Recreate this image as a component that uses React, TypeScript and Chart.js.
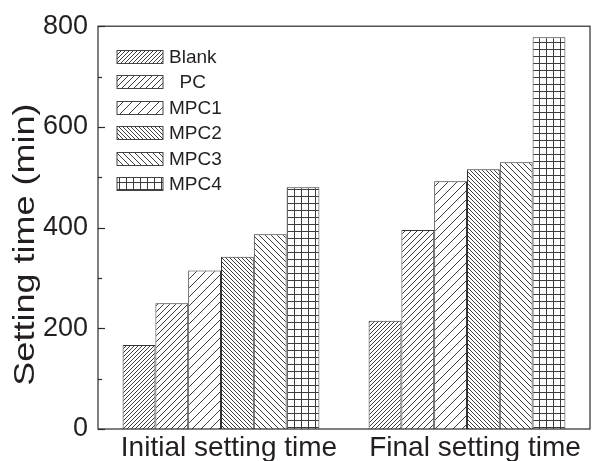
import React, { useEffect, useRef } from "react";
import { Chart, registerables } from "chart.js";

Chart.register(...registerables);

const categories = ["Initial setting time", "Final setting time"];
const seriesNames = ["Blank", "  PC", "MPC1", "MPC2", "MPC3", "MPC4"];
const blankValues = [167, 215];
const pcValues = [250, 395];
const mpc1Values = [315, 492];
const mpc2Values = [342, 516];
const mpc3Values = [387, 530];
const mpc4Values = [480, 778];
const yMin = 0;
const yMax = 800;
const yStep = 200;
const yMinorStep = 100;
const yTitle = "Setting time (min)";

const FONT = "'Liberation Sans', Arial, Helvetica, sans-serif";
const TEXT = "#231f20";
const LINE = "#2a2a2a";

function makePattern(kind: string, w: number, h: number): CanvasPattern | string {
  const c = document.createElement("canvas");
  c.width = w;
  c.height = h;
  const g = c.getContext("2d");
  if (!g) return "#fff";
  g.fillStyle = "#ffffff";
  g.fillRect(0, 0, w, h);
  g.strokeStyle = "#3c3c3c";
  g.lineWidth = 1;
  g.beginPath();
  if (kind === "fwd") {
    g.moveTo(0, h);
    g.lineTo(w, 0);
    g.moveTo(-1, 1);
    g.lineTo(1, -1);
    g.moveTo(w - 1, h + 1);
    g.lineTo(w + 1, h - 1);
  } else if (kind === "back") {
    g.moveTo(0, 0);
    g.lineTo(w, h);
    g.moveTo(-1, h - 1);
    g.lineTo(1, h + 1);
    g.moveTo(w - 1, -1);
    g.lineTo(w + 1, 1);
  } else {
    g.moveTo(0.5, 0);
    g.lineTo(0.5, h);
    g.moveTo(0, 0.5);
    g.lineTo(w, 0.5);
  }
  g.stroke();
  const ctx = document.createElement("canvas").getContext("2d");
  return (ctx && ctx.createPattern(c, "repeat")) || "#fff";
}

const framePlugin = {
  id: "frameAndLegend",
  afterDatasetsDraw(chart: any) {
    const { ctx, chartArea } = chart;
    const { left, right, top, bottom } = chartArea;
    ctx.save();
    // frame
    ctx.strokeStyle = LINE;
    ctx.lineWidth = 1.2;
    ctx.strokeRect(left, top, right - left, bottom - top);
    // inward ticks on y axis
    const ys = chart.scales.y;
    for (let v = yMin; v <= yMax; v += yMinorStep) {
      const py = Math.round(ys.getPixelForValue(v)) + 0.5;
      const major = v % yStep === 0;
      ctx.beginPath();
      ctx.moveTo(left, py);
      ctx.lineTo(left + (major ? 7 : 4), py);
      ctx.stroke();
    }
    // y axis title (slightly stretched along its length like the reference)
    ctx.save();
    ctx.translate(26, (top + bottom) / 2 + 17);
    ctx.rotate(-Math.PI / 2);
    ctx.scale(1.2, 1);
    ctx.font = `30px ${FONT}`;
    ctx.fillStyle = TEXT;
    ctx.textAlign = "center";
    ctx.textBaseline = "middle";
    ctx.fillText(yTitle, 0, 0);
    ctx.restore();
    // legend
    const boxX = 117;
    const boxW = 46;
    const boxH = 13;
    const rowTop = 50;
    const rowGap = 25.4;
    ctx.font = `19px ${FONT}`;
    ctx.textBaseline = "middle";
    ctx.textAlign = "left";
    chart.data.datasets.forEach((ds: any, i: number) => {
      const y = Math.round(rowTop + i * rowGap) + 0.5;
      ctx.fillStyle = ds.backgroundColor;
      ctx.fillRect(boxX, y, boxW, boxH);
      ctx.strokeStyle = "#444";
      ctx.lineWidth = 1;
      ctx.strokeRect(boxX, y, boxW, boxH);
      ctx.fillStyle = TEXT;
      ctx.fillText(ds.label, boxX + boxW + 6, y + boxH / 2 + 1);
    });
    ctx.restore();
  },
};

export default function App() {
  const ref = useRef<HTMLCanvasElement | null>(null);
  useEffect(() => {
    document.body.style.margin = "0";
    const canvas = ref.current;
    if (!canvas) return;
    const patterns = [
      makePattern("fwd", 4, 4),
      makePattern("fwd", 6, 6),
      makePattern("fwd", 9, 9),
      makePattern("back", 4, 4),
      makePattern("back", 6, 6),
      makePattern("grid", 7, 7),
    ];
    const values = [blankValues, pcValues, mpc1Values, mpc2Values, mpc3Values, mpc4Values];
    const chart = new Chart(canvas, {
      type: "bar",
      data: {
        labels: categories,
        datasets: seriesNames.map((name, i) => ({
          label: name,
          data: values[i],
          backgroundColor: patterns[i] as any,
          borderColor: "#333",
          borderWidth: 1,
          barPercentage: 1,
          categoryPercentage: 0.8,
        })),
      },
      options: {
        responsive: false,
        animation: false,
        devicePixelRatio: 1,
        layout: { padding: { top: 24, right: 3, left: 0, bottom: 0 } },
        plugins: { legend: { display: false }, tooltip: { enabled: false } },
        scales: {
          x: {
            grid: { display: false, drawTicks: false },
            border: { display: false },
            ticks: {
              font: { family: FONT, size: 28 },
              color: TEXT,
              padding: 2,
              maxRotation: 0,
              labelOffset: 8,
            },
            afterFit: (s: any) => {
              s.height = 32;
            },
          },
          y: {
            min: yMin,
            max: yMax,
            grid: { display: false, drawTicks: false },
            border: { display: false },
            ticks: { stepSize: yStep, font: { family: FONT, size: 27 }, color: TEXT, padding: 10 },
            afterFit: (s: any) => {
              s.width = 98;
            },
          },
        },
      },
      plugins: [framePlugin],
    });
    return () => chart.destroy();
  }, []);
  return <canvas ref={ref} width={593} height={461} style={{ display: "block" }} />;
}
